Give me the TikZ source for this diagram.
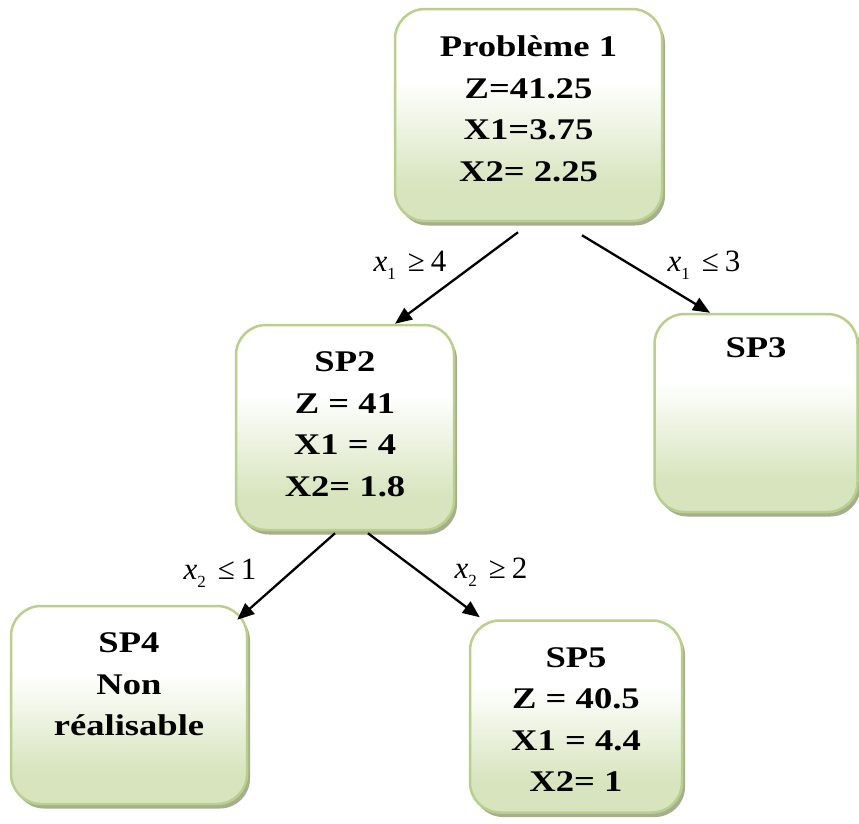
\documentclass[tikz,border=0pt]{standalone}
\usepackage{fontspec}
\setmainfont{Liberation Serif}
\newfontfamily\labfont{Liberation Serif}
\newfontfamily\boxfam[FakeStretch=1.22]{Liberation Serif}
\usetikzlibrary{shadows,arrows.meta,calc}

% wide bold serif face for the text inside the boxes
\newcommand\boxfont{\boxfam\bfseries\fontsize{30}{41.5}\selectfont}
% branch condition labels: x_i <op> n
\newcommand\cond[3]{{\labfont\fontsize{31}{31}\selectfont\itshape x}\raisebox{-8pt}{\labfont\fontsize{17}{17}\selectfont #1}\hspace{12pt}{\labfont\fontsize{31}{31}\selectfont #2}\hspace{6pt}{\labfont\fontsize{31}{31}\selectfont #3}}

\definecolor{boxgreen}{RGB}{215,228,189}
\definecolor{boxborder}{RGB}{185,207,140}
\definecolor{boxshadow}{RGB}{165,174,142}

% white upper part fading to light green at the bottom
\pgfdeclareverticalshading{boxfill}{100bp}{%
  color(0bp)=(boxgreen); color(33bp)=(boxgreen);
  color(58bp)=(white); color(100bp)=(white)}

\begin{document}
\begin{tikzpicture}[x=1pt,y=-1pt,
  box/.style={draw=boxborder, line width=2.5pt, rounded corners=30pt,
    shade, shading=boxfill, inner sep=0pt,
    drop shadow={shadow xshift=3pt, shadow yshift=-4.5pt, fill=boxshadow, opacity=1}},
  boxtext/.style={anchor=north, align=center, inner sep=0pt, font=\boxfont},
  arr/.style={line width=2.3pt, -{Triangle[length=17pt,width=14pt]}},
  lab/.style={inner sep=0pt}]
  \useasboundingbox (0,0) rectangle (859,823);

  % boxes
  \node[box, minimum width=267pt, minimum height=212pt] (p1) at (528.5,115) {};
  \node[box, minimum width=218pt, minimum height=205pt] (sp2) at (345,427.5) {};
  \node[box, minimum width=203pt, minimum height=198pt] (sp3) at (756,413) {};
  \node[box, minimum width=236pt, minimum height=198pt] (sp4) at (129,705) {};
  \node[box, minimum width=212pt, minimum height=192pt] (sp5) at (576,716.5) {};

  % box contents
  \node[boxtext] (p1t)  at ([yshift=-28pt]p1.north)  {Problème 1\\Z=41.25\\X1=3.75\\X2= 2.25};
  \node[boxtext] (sp2t) at ([yshift=-28pt]sp2.north) {SP2\\Z = 41\\X1 = 4\\X2= 1.8};
  \node[boxtext] (sp3t) at ([yshift=-25pt]sp3.north) {SP3};
  \node[boxtext] (sp4t) at ([yshift=-28pt]sp4.north) {SP4\\Non\\réalisable};
  \node[boxtext] (sp5t) at ([yshift=-28pt]sp5.north) {SP5\\Z = 40.5\\X1 = 4.4\\X2= 1};

  % branches
  \draw[arr] ([xshift=-10.5pt,yshift=-10pt]p1.south) -- ([xshift=50pt]sp2.north);
  \draw[arr] ([xshift=53.5pt,yshift=-13pt]p1.south) -- ([xshift=-46pt]sp3.north);
  \draw[arr] ([xshift=-10pt,yshift=-2pt]sp2.south) -- ([xshift=-11pt,yshift=-15pt]sp4.north east);
  \draw[arr] ([xshift=23pt,yshift=-2pt]sp2.south) -- ([xshift=11pt,yshift=2pt]sp5.north west);

  % branch conditions
  \node[lab] (c1) at (410,265) {\cond{1}{≥}{4}};
  \node[lab] (c2) at (704,265) {\cond{1}{≤}{3}};
  \node[lab] (c3) at (220,573) {\cond{2}{≤}{1}};
  \node[lab] (c4) at (491,572) {\cond{2}{≥}{2}};
\end{tikzpicture}
\end{document}
